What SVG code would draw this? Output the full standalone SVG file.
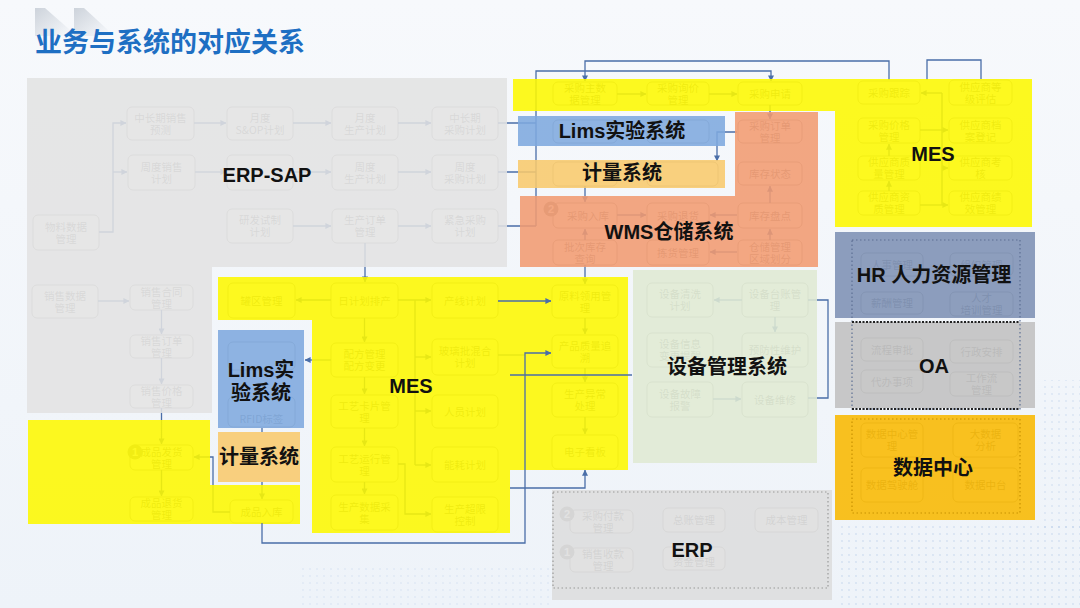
<svg xmlns="http://www.w3.org/2000/svg" width="1080" height="608" viewBox="0 0 1080 608">
<defs>
  <linearGradient id="bg" x1="0" y1="0" x2="0" y2="1">
    <stop offset="0" stop-color="#f7f9fc"/>
    <stop offset="1" stop-color="#eef3f9"/>
  </linearGradient>
  <linearGradient id="chev" x1="0" y1="0" x2="1" y2="1">
    <stop offset="0" stop-color="#cdd3db"/>
    <stop offset="1" stop-color="#cdd3db" stop-opacity="0"/>
  </linearGradient>
  <pattern id="dots" width="7" height="7" patternUnits="userSpaceOnUse">
    <circle cx="2" cy="2" r="0.9" fill="#9dbbe0"/>
  </pattern>
  <marker id="ar" viewBox="0 0 8 8" refX="7.5" refY="4" markerWidth="6" markerHeight="6" orient="auto" markerUnits="userSpaceOnUse">
    <path d="M0,0 L8,4 L0,8 z" fill="#4a6ea8"/>
  </marker>
  <style>
    .bx{fill:#ffffff;stroke:#a8a8a8;stroke-width:1}
    .bt{font-family:"Noto Sans CJK SC","Liberation Sans",sans-serif;font-size:10.5px;fill:#8a8a8a;text-anchor:middle}
    .cn{fill:none;stroke:#4a6ea8;stroke-width:1.3}
    .ov{fill-opacity:0.88}
    .lb{font-family:"Liberation Sans","Noto Sans CJK SC",sans-serif;font-weight:bold;font-size:20px;fill:#111;text-anchor:middle}
    .bd{fill:#9a9a9a}
    .bdt{font-family:"Liberation Sans",sans-serif;font-size:11px;font-weight:bold;fill:#fff;text-anchor:middle}
    .dot{fill:none;stroke-width:1.2;stroke-dasharray:1.5 2.5}
  </style>
</defs>

<!-- background -->
<rect width="1080" height="608" fill="url(#bg)"/>
<rect x="840" y="525" width="240" height="83" fill="url(#dots)" opacity="0.35"/>
<rect x="1040" y="380" width="40" height="150" fill="url(#dots)" opacity="0.3"/>
<rect x="300" y="565" width="250" height="43" fill="url(#dots)" opacity="0.2"/>

<!-- title -->
<g id="title">
  <polygon points="35,8 45,8 70,30 70,36 35,36" fill="url(#chev)"/>
  <polygon points="74,8 84,8 108,30 108,36 74,36" fill="url(#chev)"/>
  <text x="35" y="52" font-family="Noto Sans CJK SC, sans-serif" font-weight="bold" font-size="27" fill="#1e6fc3">业务与系统的对应关系</text>
</g>

<!-- ============ original detail boxes (underneath system overlays) ============ -->
<g id="detail-boxes">
  <!-- ERP-SAP -->
  <g id="n-wlsj"><rect class="bx" x="33" y="215" width="66" height="35" rx="5"/><text class="bt" x="66" y="230.5">物料数据<tspan x="66" dy="12">管理</tspan></text></g>
  <g id="n-cqxsyc"><rect class="bx" x="127" y="107" width="67" height="33" rx="5"/><text class="bt" x="160.5" y="121.5">中长期销售<tspan x="160.5" dy="12">预测</tspan></text></g>
  <g id="n-zdxsjh"><rect class="bx" x="128" y="155" width="67" height="35" rx="5"/><text class="bt" x="161.5" y="170.5">周度销售<tspan x="161.5" dy="12">计划</tspan></text></g>
  <g id="n-ydsop"><rect class="bx" x="227" y="107" width="66" height="33" rx="5"/><text class="bt" x="260" y="121.5">月度<tspan x="260" dy="12">S&amp;OP计划</tspan></text></g>
  <g id="n-zdsop"><rect class="bx" x="227" y="155" width="66" height="35" rx="5"/></g>
  <g id="n-yfsz"><rect class="bx" x="227" y="209" width="66" height="34" rx="5"/><text class="bt" x="260" y="224">研发试制<tspan x="260" dy="12">计划</tspan></text></g>
  <g id="n-ydsc"><rect class="bx" x="332" y="107" width="66" height="33" rx="5"/><text class="bt" x="365" y="121.5">月度<tspan x="365" dy="12">生产计划</tspan></text></g>
  <g id="n-zdsc"><rect class="bx" x="332" y="155" width="66" height="35" rx="5"/><text class="bt" x="365" y="170.5">周度<tspan x="365" dy="12">生产计划</tspan></text></g>
  <g id="n-scdd"><rect class="bx" x="332" y="209" width="66" height="34" rx="5"/><text class="bt" x="365" y="224">生产订单<tspan x="365" dy="12">管理</tspan></text></g>
  <g id="n-cqcg"><rect class="bx" x="432" y="107" width="66" height="33" rx="5"/><text class="bt" x="465" y="121.5">中长期<tspan x="465" dy="12">采购计划</tspan></text></g>
  <g id="n-zdcg"><rect class="bx" x="432" y="155" width="66" height="35" rx="5"/><text class="bt" x="465" y="170.5">周度<tspan x="465" dy="12">采购计划</tspan></text></g>
  <g id="n-jjcg"><rect class="bx" x="432" y="209" width="66" height="34" rx="5"/><text class="bt" x="465" y="224">紧急采购<tspan x="465" dy="12">计划</tspan></text></g>

  <!-- sales -->
  <g id="n-xssj"><rect class="bx" x="32" y="285" width="66" height="33" rx="5"/><text class="bt" x="65" y="299.5">销售数据<tspan x="65" dy="12">管理</tspan></text></g>
  <g id="n-xsht"><rect class="bx" x="130" y="285" width="63" height="25" rx="5"/><text class="bt" x="161.5" y="295.5">销售合同<tspan x="161.5" dy="12">管理</tspan></text></g>
  <g id="n-xsdd"><rect class="bx" x="130" y="335" width="63" height="23" rx="5"/><text class="bt" x="161.5" y="344.5">销售订单<tspan x="161.5" dy="12">管理</tspan></text></g>
  <g id="n-xsjg"><rect class="bx" x="130" y="385" width="63" height="23" rx="5"/><text class="bt" x="161.5" y="394.5">销售价格<tspan x="161.5" dy="12">管理</tspan></text></g>
  <g id="n-cpfh"><rect class="bx" x="130" y="445" width="63" height="25" rx="5"/><text class="bt" x="161.5" y="455.5">成品发货<tspan x="161.5" dy="12">管理</tspan></text><circle class="bd" cx="135" cy="452" r="7.5"/><text class="bdt" x="135" y="456">1</text></g>
  <g id="n-cpth"><rect class="bx" x="130" y="497" width="63" height="24" rx="5"/><text class="bt" x="161.5" y="507">成品退货<tspan x="161.5" dy="12">管理</tspan></text></g>

  <!-- purchasing / WMS -->
  <g id="n-cgzsj"><rect class="bx" x="553" y="82" width="64" height="23" rx="5"/><text class="bt" x="585" y="91.5">采购主数<tspan x="585" dy="12">据管理</tspan></text></g>
  <g id="n-cgxj"><rect class="bx" x="647" y="82" width="62" height="23" rx="5"/><text class="bt" x="678" y="91.5">采购询价<tspan x="678" dy="12">管理</tspan></text></g>
  <g id="n-cgsq"><rect class="bx" x="738" y="82" width="64" height="23" rx="5"/><text class="bt" x="770" y="97.5">采购申请</text></g>
  <g id="n-p21"><rect class="bx" x="553" y="120" width="64" height="23" rx="5"/></g>
  <g id="n-p22"><rect class="bx" x="647" y="120" width="62" height="23" rx="5"/></g>
  <g id="n-cgdd"><rect class="bx" x="738" y="120" width="64" height="23" rx="5"/><text class="bt" x="770" y="129.5">采购订单<tspan x="770" dy="12">管理</tspan></text></g>
  <g id="n-p31"><rect class="bx" x="553" y="162" width="64" height="24" rx="5"/></g>
  <g id="n-p32"><rect class="bx" x="647" y="162" width="71" height="24" rx="5"/></g>
  <g id="n-kczt"><rect class="bx" x="738" y="162" width="64" height="23" rx="5"/><text class="bt" x="770" y="177.5">库存状态</text></g>
  <g id="n-cgrk"><rect class="bx" x="553" y="203" width="64" height="25" rx="5"/><text class="bt" x="588" y="219.5">采购入库</text><circle class="bd" cx="551" cy="209" r="7.5"/><text class="bdt" x="551" y="213">2</text></g>
  <g id="n-cgth"><rect class="bx" x="647" y="203" width="62" height="25" rx="5"/><text class="bt" x="678" y="219.5">采购退货</text></g>
  <g id="n-kcpd"><rect class="bx" x="738" y="203" width="64" height="25" rx="5"/><text class="bt" x="770" y="219.5">库存盘点</text></g>
  <g id="n-pckc"><rect class="bx" x="553" y="240" width="64" height="25" rx="5"/><text class="bt" x="585" y="250.5">批次库存<tspan x="585" dy="12">查询</tspan></text></g>
  <g id="n-jhgl"><rect class="bx" x="647" y="240" width="62" height="25" rx="5"/><text class="bt" x="678" y="256.5">拣货管理</text></g>
  <g id="n-ccgl"><rect class="bx" x="738" y="240" width="64" height="25" rx="5"/><text class="bt" x="770" y="250.5">仓储管理<tspan x="770" dy="12">区域划分</tspan></text></g>

  <!-- supplier (MES top right) -->
  <g id="n-cggz"><rect class="bx" x="858" y="81" width="62" height="23" rx="5"/><text class="bt" x="889" y="96.5">采购跟踪</text></g>
  <g id="n-cgjg"><rect class="bx" x="858" y="118" width="62" height="25" rx="5"/><text class="bt" x="889" y="128.5">采购价格<tspan x="889" dy="12">管理</tspan></text></g>
  <g id="n-gyszl"><rect class="bx" x="858" y="156" width="62" height="24" rx="5"/><text class="bt" x="889" y="166">供应商质<tspan x="889" dy="12">量管理</tspan></text></g>
  <g id="n-gyszz"><rect class="bx" x="858" y="191" width="62" height="24" rx="5"/><text class="bt" x="889" y="201">供应商资<tspan x="889" dy="12">质管理</tspan></text></g>
  <g id="n-gysdj"><rect class="bx" x="949" y="80" width="63" height="25" rx="5"/><text class="bt" x="980.5" y="90.5">供应商等<tspan x="980.5" dy="12">级评估</tspan></text></g>
  <g id="n-gysda"><rect class="bx" x="949" y="118" width="63" height="25" rx="5"/><text class="bt" x="980.5" y="128.5">供应商档<tspan x="980.5" dy="12">案登记</tspan></text></g>
  <g id="n-gyskh"><rect class="bx" x="949" y="156" width="63" height="24" rx="5"/><text class="bt" x="980.5" y="166">供应商考<tspan x="980.5" dy="12">核</tspan></text></g>
  <g id="n-gysjx"><rect class="bx" x="949" y="191" width="63" height="24" rx="5"/><text class="bt" x="980.5" y="201">供应商绩<tspan x="980.5" dy="12">效管理</tspan></text></g>

  <!-- HR / OA / data -->
  <g id="n-rsgl"><rect class="bx" x="861" y="253" width="62" height="23" rx="5"/><text class="bt" x="892" y="268.5">人事管理</text></g>
  <g id="n-zzgl"><rect class="bx" x="950" y="253" width="63" height="23" rx="5"/><text class="bt" x="981.5" y="268.5">组织管理</text></g>
  <g id="n-xcgl"><rect class="bx" x="861" y="292" width="62" height="22" rx="5"/><text class="bt" x="892" y="307">薪酬管理</text></g>
  <g id="n-rcpx"><rect class="bx" x="950" y="292" width="63" height="24" rx="5"/><text class="bt" x="981.5" y="302">人才<tspan x="981.5" dy="12">培训管理</tspan></text></g>
  <g id="n-lcsp"><rect class="bx" x="861" y="338" width="62" height="23" rx="5"/><text class="bt" x="892" y="353.5">流程审批</text></g>
  <g id="n-xzap"><rect class="bx" x="950" y="340" width="63" height="23" rx="5"/><text class="bt" x="981.5" y="355.5">行政安排</text></g>
  <g id="n-dbsx"><rect class="bx" x="861" y="370" width="62" height="23" rx="5"/><text class="bt" x="892" y="385.5">代办事项</text></g>
  <g id="n-gzl"><rect class="bx" x="950" y="372" width="63" height="24" rx="5"/><text class="bt" x="981.5" y="382">工作流<tspan x="981.5" dy="12">管理</tspan></text></g>
  <g id="n-sjzxgl"><rect class="bx" x="861" y="423" width="62" height="34" rx="5"/><text class="bt" x="892" y="438">数据中心管<tspan x="892" dy="12">理</tspan></text></g>
  <g id="n-dsj"><rect class="bx" x="953" y="423" width="65" height="34" rx="5"/><text class="bt" x="985.5" y="438">大数据<tspan x="985.5" dy="12">分析</tspan></text></g>
  <g id="n-sjjsc"><rect class="bx" x="861" y="468" width="62" height="34" rx="5"/><text class="bt" x="892" y="489">数据驾驶舱</text></g>
  <g id="n-sjzt"><rect class="bx" x="953" y="468" width="65" height="34" rx="5"/><text class="bt" x="985.5" y="489">数据中台</text></g>

  <!-- MES middle -->
  <g id="n-gqgl"><rect class="bx" x="228" y="283" width="67" height="35" rx="5"/><text class="bt" x="261.5" y="304.5">罐区管理</text></g>
  <g id="n-rjhpc"><rect class="bx" x="331" y="283" width="67" height="35" rx="5"/><text class="bt" x="364.5" y="304.5">日计划排产</text></g>
  <g id="n-cxjh"><rect class="bx" x="432" y="283" width="66" height="35" rx="5"/><text class="bt" x="465" y="304.5">产线计划</text></g>
  <g id="n-lm1"><rect class="bx" x="228" y="342" width="67" height="28" rx="5"/></g>
  <g id="n-rfid"><rect class="bx" x="228" y="397" width="67" height="30" rx="5"/><text class="bt" x="261.5" y="423">RFID标签</text></g>
  <g id="n-pfgl"><rect class="bx" x="331" y="343" width="67" height="34" rx="5"/><text class="bt" x="364.5" y="358">配方管理<tspan x="364.5" dy="12">配方变更</tspan></text></g>
  <g id="n-blpjh"><rect class="bx" x="432" y="339" width="66" height="36" rx="5"/><text class="bt" x="465" y="355">玻璃批混合<tspan x="465" dy="12">计划</tspan></text></g>
  <g id="n-gykp"><rect class="bx" x="331" y="395" width="67" height="33" rx="5"/><text class="bt" x="364.5" y="409.5">工艺卡片管<tspan x="364.5" dy="12">理</tspan></text></g>
  <g id="n-ryjh"><rect class="bx" x="432" y="395" width="66" height="33" rx="5"/><text class="bt" x="465" y="415.5">人员计划</text></g>
  <g id="n-gyyx"><rect class="bx" x="331" y="447" width="67" height="35" rx="5"/><text class="bt" x="364.5" y="462.5">工艺运行管<tspan x="364.5" dy="12">理</tspan></text></g>
  <g id="n-nhjh"><rect class="bx" x="432" y="447" width="66" height="35" rx="5"/><text class="bt" x="465" y="468.5">能耗计划</text></g>
  <g id="n-scsj"><rect class="bx" x="331" y="495" width="67" height="35" rx="5"/><text class="bt" x="364.5" y="510.5">生产数据采<tspan x="364.5" dy="12">集</tspan></text></g>
  <g id="n-sccx"><rect class="bx" x="432" y="497" width="66" height="35" rx="5"/><text class="bt" x="465" y="512.5">生产超限<tspan x="465" dy="12">控制</tspan></text></g>
  <g id="n-cprk"><rect class="bx" x="230" y="500" width="63" height="23" rx="5"/><text class="bt" x="261.5" y="515.5">成品入库</text></g>
  <g id="n-ylly"><rect class="bx" x="552" y="285" width="66" height="33" rx="5"/><text class="bt" x="585" y="299.5">原料领用管<tspan x="585" dy="12">理</tspan></text></g>
  <g id="n-cpzl"><rect class="bx" x="552" y="335" width="66" height="33" rx="5"/><text class="bt" x="585" y="349.5">产品质量追<tspan x="585" dy="12">溯</tspan></text></g>
  <g id="n-scyc"><rect class="bx" x="552" y="383" width="66" height="34" rx="5"/><text class="bt" x="585" y="398">生产异常<tspan x="585" dy="12">处理</tspan></text></g>
  <g id="n-dzkb"><rect class="bx" x="552" y="435" width="66" height="34" rx="5"/><text class="bt" x="585" y="456">电子看板</text></g>

  <!-- equipment -->
  <g id="n-sbqx"><rect class="bx" x="647" y="283" width="66" height="34" rx="5"/><text class="bt" x="680" y="298">设备清洗<tspan x="680" dy="12">计划</tspan></text></g>
  <g id="n-sbtz"><rect class="bx" x="742" y="283" width="66" height="34" rx="5"/><text class="bt" x="775" y="298">设备台账管<tspan x="775" dy="12">理</tspan></text></g>
  <g id="n-sbxx"><rect class="bx" x="647" y="333" width="66" height="34" rx="5"/><text class="bt" x="680" y="348">设备信息<tspan x="680" dy="12">变更提醒</tspan></text></g>
  <g id="n-yfxwh"><rect class="bx" x="742" y="333" width="66" height="34" rx="5"/><text class="bt" x="775" y="354">预防性维护</text></g>
  <g id="n-sbgz"><rect class="bx" x="647" y="382" width="66" height="35" rx="5"/><text class="bt" x="680" y="397.5">设备故障<tspan x="680" dy="12">报警</tspan></text></g>
  <g id="n-sbwx"><rect class="bx" x="742" y="382" width="66" height="35" rx="5"/><text class="bt" x="775" y="403.5">设备维修</text></g>

  <!-- ERP bottom -->
  <g id="n-cgfk"><rect class="bx" x="570" y="510" width="63" height="23" rx="5"/><text class="bt" x="603" y="519.5">采购付款<tspan x="603" dy="12">管理</tspan></text><circle class="bd" cx="567" cy="514" r="7.5"/><text class="bdt" x="567" y="518">2</text></g>
  <g id="n-zzgl2"><rect class="bx" x="663" y="508" width="62" height="24" rx="5"/><text class="bt" x="694" y="524">总账管理</text></g>
  <g id="n-cbgl"><rect class="bx" x="755" y="508" width="63" height="24" rx="5"/><text class="bt" x="786.5" y="524">成本管理</text></g>
  <g id="n-xssk"><rect class="bx" x="570" y="548" width="63" height="24" rx="5"/><text class="bt" x="603" y="558">销售收款<tspan x="603" dy="12">管理</tspan></text><circle class="bd" cx="567" cy="552" r="7.5"/><text class="bdt" x="567" y="556">1</text></g>
  <g id="n-zjgl"><rect class="bx" x="663" y="547" width="62" height="23" rx="5"/><text class="bt" x="694" y="566">资金管理</text></g>
</g>

<!-- connectors (under system overlays) -->
<g id="connectors-under">
  <path class="cn" d="M99,232 H113 V123 H126" marker-end="url(#ar)"/>
  <path class="cn" d="M113,172 H127" marker-end="url(#ar)"/>
  <path class="cn" d="M194,123 H226" marker-end="url(#ar)"/>
  <path class="cn" d="M195,172 H226" marker-end="url(#ar)"/>
  <path class="cn" d="M293,123 H331" marker-end="url(#ar)"/>
  <path class="cn" d="M293,172 H331" marker-end="url(#ar)"/>
  <path class="cn" d="M293,226 H331" marker-end="url(#ar)"/>
  <path class="cn" d="M398,123 H431" marker-end="url(#ar)"/>
  <path class="cn" d="M398,172 H431" marker-end="url(#ar)"/>
  <path class="cn" d="M398,226 H431" marker-end="url(#ar)"/>
  <path class="cn" d="M498,123 H536 M498,172 H536 M498,226 H536"/>
  <path class="cn" d="M536,226 V71 H771 V81" marker-end="url(#ar)"/>
  <path class="cn" d="M365,243 V282" marker-end="url(#ar)"/>

  <path class="cn" d="M98,301 H129" marker-end="url(#ar)"/>
  <path class="cn" d="M161.5,310 V334" marker-end="url(#ar)"/>
  <path class="cn" d="M161.5,358 V384" marker-end="url(#ar)"/>
  <path class="cn" d="M161.5,408 V444" marker-end="url(#ar)"/>
  <path class="cn" d="M161.5,470 V496" marker-end="url(#ar)"/>
  <path class="cn" d="M230,512 H213 V457 H194" marker-end="url(#ar)"/>

  <path class="cn" d="M889,80 V61 H585 V81" marker-end="url(#ar)"/>
  <path class="cn" d="M927,80 V60 H981 V79"/>
  <path class="cn" d="M617,94 H646" marker-end="url(#ar)"/>
  <path class="cn" d="M709,94 H737" marker-end="url(#ar)"/>
  <path class="cn" d="M770,105 V119" marker-end="url(#ar)"/>
  <path class="cn" d="M737,132 H717 V161" marker-end="url(#ar)"/>
  <path class="cn" d="M585,186 V202" marker-end="url(#ar)"/>
  <path class="cn" d="M617,215 H646" marker-end="url(#ar)"/>
  <path class="cn" d="M737,215 H710" marker-end="url(#ar)"/>
  <path class="cn" d="M770,203 V186" marker-end="url(#ar)"/>
  <path class="cn" d="M770,240 V229" marker-end="url(#ar)"/>
  <path class="cn" d="M737,252 H710" marker-end="url(#ar)"/>
  <path class="cn" d="M585,240 V229" marker-end="url(#ar)"/>
  <path class="cn" d="M585,265 V284" marker-end="url(#ar)"/>

  <path class="cn" d="M942,93 H921" marker-end="url(#ar)"/>
  <path class="cn" d="M942,93 V205"/>
  <path class="cn" d="M920,130 H948" marker-end="url(#ar)"/>
  <path class="cn" d="M942,168 H948" marker-end="url(#ar)"/>
  <path class="cn" d="M920,205 H948" marker-end="url(#ar)"/>
  <path class="cn" d="M889,156 V144" marker-end="url(#ar)"/>
  <path class="cn" d="M889,191 V181" marker-end="url(#ar)"/>

  <path class="cn" d="M331,300 H296" marker-end="url(#ar)"/>
  <path class="cn" d="M398,300 H431" marker-end="url(#ar)"/>
  <path class="cn" d="M415,300 V465"/>
  <path class="cn" d="M415,357 H431" marker-end="url(#ar)"/>
  <path class="cn" d="M415,411 H431" marker-end="url(#ar)"/>
  <path class="cn" d="M415,465 H431" marker-end="url(#ar)"/>
  <path class="cn" d="M364.5,318 V342" marker-end="url(#ar)"/>
  <path class="cn" d="M364.5,377 V394" marker-end="url(#ar)"/>
  <path class="cn" d="M364.5,428 V446" marker-end="url(#ar)"/>
  <path class="cn" d="M364.5,482 V494" marker-end="url(#ar)"/>
  <path class="cn" d="M331,360 H305" marker-end="url(#ar)"/>
  <path class="cn" d="M262,428 V432"/>
  <path class="cn" d="M262,482 V499" marker-end="url(#ar)"/>
  <path class="cn" d="M398,464 H405 V514 H431" marker-end="url(#ar)"/>
  <path class="cn" d="M498,355 H525"/>
  <path class="cn" d="M585,318 V334" marker-end="url(#ar)"/>
  <path class="cn" d="M585,368 V382" marker-end="url(#ar)"/>
  <path class="cn" d="M585,417 V434" marker-end="url(#ar)"/>

  <path class="cn" d="M742,300 H714" marker-end="url(#ar)"/>
  <path class="cn" d="M775,317 V332" marker-end="url(#ar)"/>
  <path class="cn" d="M713,399 H741" marker-end="url(#ar)"/>
  <path class="cn" d="M808,300 H828 V398 H808"/>
</g>

<!-- ============ system overlays ============ -->
<g id="sys-erp-sap">
  <path class="ov" d="M27,78 H507 V267 H212 V413 H27 Z" fill="#e3e3e3"/>
</g>
<g id="sys-mes-sales">
  <path class="ov" d="M28,420 H210 V485 H300 V524 H28 Z" fill="#fdf800"/>
</g>
<g id="sys-mes-top">
  <path class="ov" d="M513,79 H1032 V227 H835 V111 H513 Z" fill="#fdf800"/>
</g>
<g id="sys-lims-top">
  <rect class="ov" x="518" y="116" width="207" height="30" fill="#7ea9de"/>
</g>
<g id="sys-jl-top">
  <rect class="ov" x="518" y="160" width="207" height="28" fill="#f8c96c"/>
</g>
<g id="sys-wms">
  <path class="ov" d="M735,112 H818 V267 H520 V196 H735 Z" fill="#f19b71"/>
</g>
<g id="sys-hr">
  <rect class="ov" x="835" y="232" width="200" height="86" fill="#7d91b4"/>
</g>
<g id="sys-oa">
  <rect class="ov" x="835" y="322" width="200" height="86" fill="#c0c0c0"/>
</g>
<g id="sys-dc">
  <rect class="ov" x="835" y="415" width="200" height="105" fill="#f8b800"/>
</g>
<g id="sys-mes-mid">
  <path class="ov" d="M218,277 H628 V470 H510 V533 H312 V320 H218 Z" fill="#fdf800"/>
</g>
<g id="sys-lims-mid">
  <rect class="ov" x="218" y="330" width="86" height="98" fill="#7ea9de"/>
</g>
<g id="sys-jl-mid">
  <rect class="ov" x="218" y="432" width="82" height="50" fill="#f8c96c"/>
</g>
<g id="sys-eq">
  <rect class="ov" x="633" y="270" width="184" height="193" fill="#dfe9d3"/>
</g>
<g id="sys-erp">
  <rect class="ov" x="552" y="490" width="280" height="110" fill="#dddddd"/>
  <rect class="dot" x="553" y="492" width="275" height="96" stroke="#9a9a9a"/>
</g>

<!-- dotted frames -->
<rect class="dot" x="852" y="240" width="168" height="169" stroke="#5d6f93"/>
<path d="M852,322 H1020 M852,409 H1020" stroke="#222" stroke-width="2" stroke-dasharray="2 1.5" fill="none"/>
<rect class="dot" x="852" y="419" width="168" height="94" stroke="#c89200"/>

<!-- connectors drawn above overlays -->
<g id="connectors">
  <path class="cn" d="M262,523 V543 H525 V353 H551" marker-end="url(#ar)"/>
  <path class="cn" d="M498,301 H551" marker-end="url(#ar)"/>
  <path class="cn" d="M510,375 H632"/>
  <path class="cn" d="M510,488 H585 V470" marker-end="url(#ar)"/>
</g>

<!-- system labels -->
<g id="labels">
  <text class="lb" x="267" y="182" font-size="22">ERP-SAP</text>
  <text class="lb" x="622" y="138">Lims实验系统</text>
  <text class="lb" x="622" y="180" font-size="19.5">计量系统</text>
  <text class="lb" x="669" y="239">WMS仓储系统</text>
  <text class="lb" x="933" y="161">MES</text>
  <text class="lb" x="934" y="282">HR 人力资源管理</text>
  <text class="lb" x="934" y="373">OA</text>
  <text class="lb" x="933" y="475">数据中心</text>
  <text class="lb" x="411" y="393">MES</text>
  <text class="lb" x="261" y="377">Lims实<tspan x="261" dy="23">验系统</tspan></text>
  <text class="lb" x="259" y="464" font-size="16">计量系统</text>
  <text class="lb" x="727" y="374">设备管理系统</text>
  <text class="lb" x="692" y="557">ERP</text>
</g>
</svg>
